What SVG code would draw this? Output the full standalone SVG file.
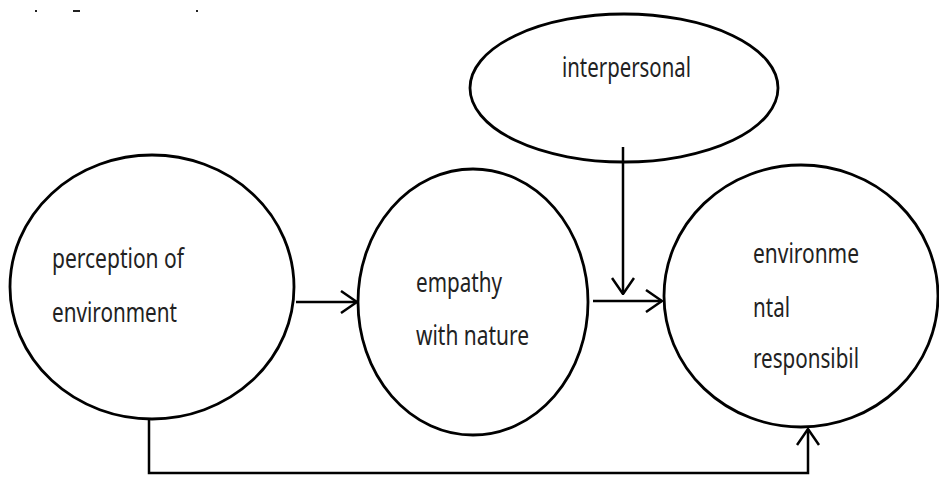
<svg xmlns="http://www.w3.org/2000/svg" width="939" height="477" viewBox="0 0 939 477">
<style>
.node{fill:#fff;stroke:#000;stroke-width:2.8}
.lbl{font-family:"Noto Sans","Open Sans",sans-serif;font-size:27px;fill:#222}
.con{fill:none;stroke:#000;stroke-width:2.5}
</style>
<defs>
<marker id="ah" viewBox="0 0 18 24" refX="17" refY="12" markerWidth="18" markerHeight="24" markerUnits="userSpaceOnUse" orient="auto">
<path d="M1,1 L17,12 L1,23" fill="none" stroke="#000" stroke-width="2.5"/>
</marker>
</defs>
<rect width="939" height="477" fill="#fff"/>
<g id="marks" fill="#222">
<rect x="35" y="10" width="2" height="2"/>
<rect x="73" y="10" width="7" height="2"/>
<rect x="196" y="10" width="2" height="2"/>
</g>
<g id="interpersonal">
<ellipse class="node" cx="624" cy="88" rx="154" ry="74"/>
<text class="lbl" x="562" y="77" textLength="129" lengthAdjust="spacingAndGlyphs">interpersonal</text>
</g>
<g id="perception">
<ellipse class="node" cx="152" cy="287" rx="142" ry="132"/>
<text class="lbl" x="52" y="268" textLength="132" lengthAdjust="spacingAndGlyphs">perception of</text>
<text class="lbl" x="52" y="322" textLength="125" lengthAdjust="spacingAndGlyphs">environment</text>
</g>
<g id="empathy">
<ellipse class="node" cx="473" cy="302" rx="115" ry="133"/>
<text class="lbl" x="416" y="292" textLength="86" lengthAdjust="spacingAndGlyphs">empathy</text>
<text class="lbl" x="416" y="345" textLength="113" lengthAdjust="spacingAndGlyphs">with nature</text>
</g>
<g id="responsibility">
<ellipse class="node" cx="801" cy="296" rx="137" ry="131"/>
<text class="lbl" x="753" y="263" textLength="106" lengthAdjust="spacingAndGlyphs">environme</text>
<text class="lbl" x="753" y="317" textLength="37" lengthAdjust="spacingAndGlyphs">ntal</text>
<text class="lbl" x="753" y="368" textLength="106" lengthAdjust="spacingAndGlyphs">responsibil</text>
</g>
<g id="connectors">
<path class="con" d="M296,302 H357" marker-end="url(#ah)"/>
<path class="con" d="M593,301 H662" marker-end="url(#ah)"/>
<path class="con" d="M623,147 V294" marker-end="url(#ah)"/>
<path class="con" d="M149,419 V473 H808 V429" marker-end="url(#ah)"/>
</g>
</svg>
